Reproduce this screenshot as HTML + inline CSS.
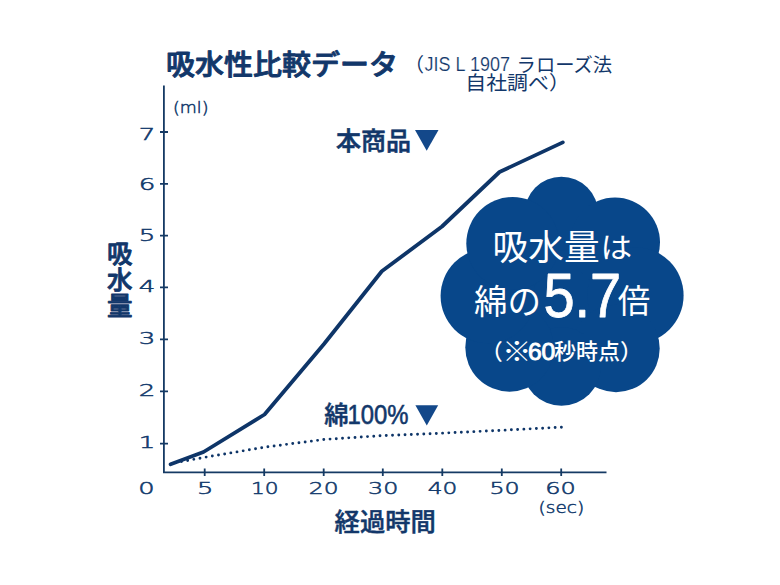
<!DOCTYPE html>
<html lang="ja">
<head>
<meta charset="utf-8">
<title>吸水性比較データ</title>
<style>
html,body{margin:0;padding:0;background:#fff;}
body{width:780px;height:585px;overflow:hidden;}
svg{display:block;}
.jp{font-family:"Liberation Sans","Noto Sans CJK JP",sans-serif;}
.jpo{font-family:"Liberation Sans","Noto Sans CJK JP",sans-serif;}
.num{font-family:"DejaVu Sans","Liberation Sans",sans-serif;font-weight:200;fill:#123a6c;stroke:#123a6c;stroke-width:0.5px;}
</style>
</head>
<body>
<svg width="780" height="585" viewBox="0 0 780 585">
<rect width="780" height="585" fill="#ffffff"/>

<!-- axes -->
<g stroke="#153a64" stroke-width="1.8" fill="none" stroke-linecap="butt">
  <path d="M163.9 85.4V472.3H606.5"/>
  <!-- y ticks -->
  <path d="M160 132h8M160 183.8h8M160 235.7h8M160 287.4h8M160 339.4h8M160 391.4h8M160 443.7h8"/>
  <!-- x ticks -->
  <path d="M204.7 468.5v7.6M264.2 468.5v7.6M323.7 468.5v7.6M382.8 468.5v7.6M442.3 468.5v7.6M501.8 468.5v7.6M561.2 468.5v7.6"/>
</g>

<!-- dotted line (cotton) -->
<path d="M181.5 461.6L205 457.3L264 447.3L324 439.5L383 435.6L442 433.2L502 430.3L561.5 427.2" fill="none" stroke="#0e3568" stroke-width="2.9" stroke-linecap="round" stroke-linejoin="round" stroke-dasharray="0 6.2615"/>

<!-- main line -->
<path d="M170.6 464.3L203.5 452L264.5 414.5L324 344L381.8 271.3L442 226.5L499.5 172L562.8 142.4" fill="none" stroke="#0e3568" stroke-width="3.8" stroke-linecap="round" stroke-linejoin="round"/>

<!-- cloud -->
<g fill="#08478a">
  <ellipse cx="562" cy="292" rx="80" ry="70"/>
  <circle cx="561.4" cy="213.5" r="36.8"/>
  <circle cx="615" cy="242.5" r="45"/>
  <circle cx="635.4" cy="295.4" r="48.2"/>
  <circle cx="616" cy="348.5" r="43.7"/>
  <circle cx="561.5" cy="366.5" r="39.3"/>
  <circle cx="509.5" cy="347.5" r="44.2"/>
  <circle cx="487.9" cy="296" r="47.3"/>
  <circle cx="512.7" cy="243.4" r="46.4"/>
</g>

<!-- title -->
<text class="jpo" x="166" y="74.8" font-size="28.2" font-weight="500" fill="#12376a" stroke="#12376a" stroke-width="0.9" stroke-linejoin="round" textLength="232" lengthAdjust="spacingAndGlyphs">吸水性比較データ</text>

<!-- subtitle -->
<g class="jp" font-weight="400" fill="#12376a">
  <text x="404.5" y="72" font-size="19.5">（</text>
  <text x="424.6" y="70.6" font-size="20.5" stroke="#ffffff" stroke-width="0.2" textLength="85.4" lengthAdjust="spacingAndGlyphs">JIS L 1907</text>
  <text x="516.6" y="72" font-size="19.5" textLength="95.5" lengthAdjust="spacingAndGlyphs">ラローズ法</text>
  <text x="465.3" y="90.3" font-size="19.5" textLength="104.5" lengthAdjust="spacingAndGlyphs">自社調べ）</text>
</g>

<!-- unit labels -->
<g class="num">
  <text x="173" y="113" font-size="15.6" textLength="35.5" lengthAdjust="spacingAndGlyphs">(ml)</text>
  <text x="538.6" y="512.6" font-size="15.6" textLength="45.5" lengthAdjust="spacingAndGlyphs">(sec)</text>
</g>

<!-- y numbers -->
<g class="num" font-size="15.5" text-anchor="middle">
  <text x="147" y="139.6" textLength="16.6" lengthAdjust="spacingAndGlyphs">7</text>
  <text x="147" y="190.4" textLength="16.6" lengthAdjust="spacingAndGlyphs">6</text>
  <text x="147" y="241.3" textLength="16.6" lengthAdjust="spacingAndGlyphs">5</text>
  <text x="147" y="292" textLength="16.6" lengthAdjust="spacingAndGlyphs">4</text>
  <text x="147" y="344" textLength="16.6" lengthAdjust="spacingAndGlyphs">3</text>
  <text x="147" y="396" textLength="16.6" lengthAdjust="spacingAndGlyphs">2</text>
  <text x="147" y="448.3" textLength="16.6" lengthAdjust="spacingAndGlyphs">1</text>
</g>

<!-- x numbers -->
<g class="num" font-size="15.5" text-anchor="middle">
  <text x="146.5" y="494.3" textLength="16.4" lengthAdjust="spacingAndGlyphs">0</text>
  <text x="205.2" y="494.3" textLength="16.4" lengthAdjust="spacingAndGlyphs">5</text>
  <text x="264.7" y="494.3" textLength="27.6" lengthAdjust="spacingAndGlyphs">10</text>
  <text x="323.7" y="494.3" textLength="29.7" lengthAdjust="spacingAndGlyphs">20</text>
  <text x="383.2" y="494.3" textLength="30.3" lengthAdjust="spacingAndGlyphs">30</text>
  <text x="442.5" y="494.3" textLength="29.6" lengthAdjust="spacingAndGlyphs">40</text>
  <text x="504.6" y="494.3" textLength="30.2" lengthAdjust="spacingAndGlyphs">50</text>
  <text x="560.6" y="494.3" textLength="30.5" lengthAdjust="spacingAndGlyphs">60</text>
</g>

<!-- y axis label -->
<g class="jpo" font-size="25.5" font-weight="500" fill="#12376a" stroke="#12376a" stroke-width="0.85" stroke-linejoin="round" text-anchor="middle">
  <text x="119.8" y="262.6">吸</text>
  <text x="119.8" y="288.8">水</text>
  <text x="119.8" y="314.6">量</text>
</g>

<!-- x axis label -->
<text class="jpo" x="334.6" y="531.3" font-size="25.2" font-weight="500" fill="#12376a" stroke="#12376a" stroke-width="0.5" stroke-linejoin="round" textLength="101.2" lengthAdjust="spacingAndGlyphs">経過時間</text>

<!-- series labels -->
<text class="jpo" x="336" y="149.6" font-size="25" font-weight="500" fill="#12376a" stroke="#12376a" stroke-width="0.6" textLength="75" lengthAdjust="spacingAndGlyphs">本商品</text>
<path d="M415 130.1H438.5L426.7 150.8Z" fill="#13488a"/>

<text class="jpo" x="324.3" y="424.2" font-size="24.5" font-weight="500" fill="#12376a" stroke="#12376a" stroke-width="0.5" textLength="24.4" lengthAdjust="spacingAndGlyphs">綿</text>
<text class="jp" x="347.4" y="424.3" font-size="27.3" font-weight="400" fill="#12376a" stroke="#12376a" stroke-width="0.6" textLength="61" lengthAdjust="spacingAndGlyphs">100%</text>
<path d="M415.4 405.2H438.2L426.8 425.4Z" fill="#13488a"/>

<!-- cloud text -->
<g fill="#ffffff">
  <text class="jpo" x="492.6" y="259.9" font-size="35.5" font-weight="400" textLength="107" lengthAdjust="spacingAndGlyphs">吸水量</text>
  <text class="jpo" x="600.6" y="258.2" font-size="28.5" font-weight="400" textLength="31.6" lengthAdjust="spacingAndGlyphs">は</text>
  <text class="jpo" x="474" y="313.5" font-size="34" font-weight="400" textLength="67" lengthAdjust="spacingAndGlyphs">綿の</text>
  <text class="jp" x="543.4" y="316.6" font-size="62.3" font-weight="400" stroke="#ffffff" stroke-width="0.8" stroke-linejoin="round" textLength="77.8" lengthAdjust="spacingAndGlyphs">5.7</text>
  <text class="jpo" x="617.8" y="313.3" font-size="33" font-weight="400" textLength="32.5" lengthAdjust="spacingAndGlyphs">倍</text>
  <text class="jpo" x="480.8" y="359.3" font-size="22" font-weight="500">（</text>
  <text class="jpo" x="502.2" y="361" font-size="26" font-weight="400" textLength="29.2" lengthAdjust="spacingAndGlyphs">※</text>
  <text class="jp" x="527.9" y="359.8" font-size="24.8" font-weight="400" stroke="#ffffff" stroke-width="0.9" stroke-linejoin="round" textLength="27.4" lengthAdjust="spacingAndGlyphs">60</text>
  <text class="jpo" x="554" y="359.3" font-size="22" font-weight="500" textLength="66" lengthAdjust="spacingAndGlyphs">秒時点</text>
  <text class="jpo" x="620" y="359.3" font-size="22" font-weight="500">）</text>
</g>
</svg>
</body>
</html>
